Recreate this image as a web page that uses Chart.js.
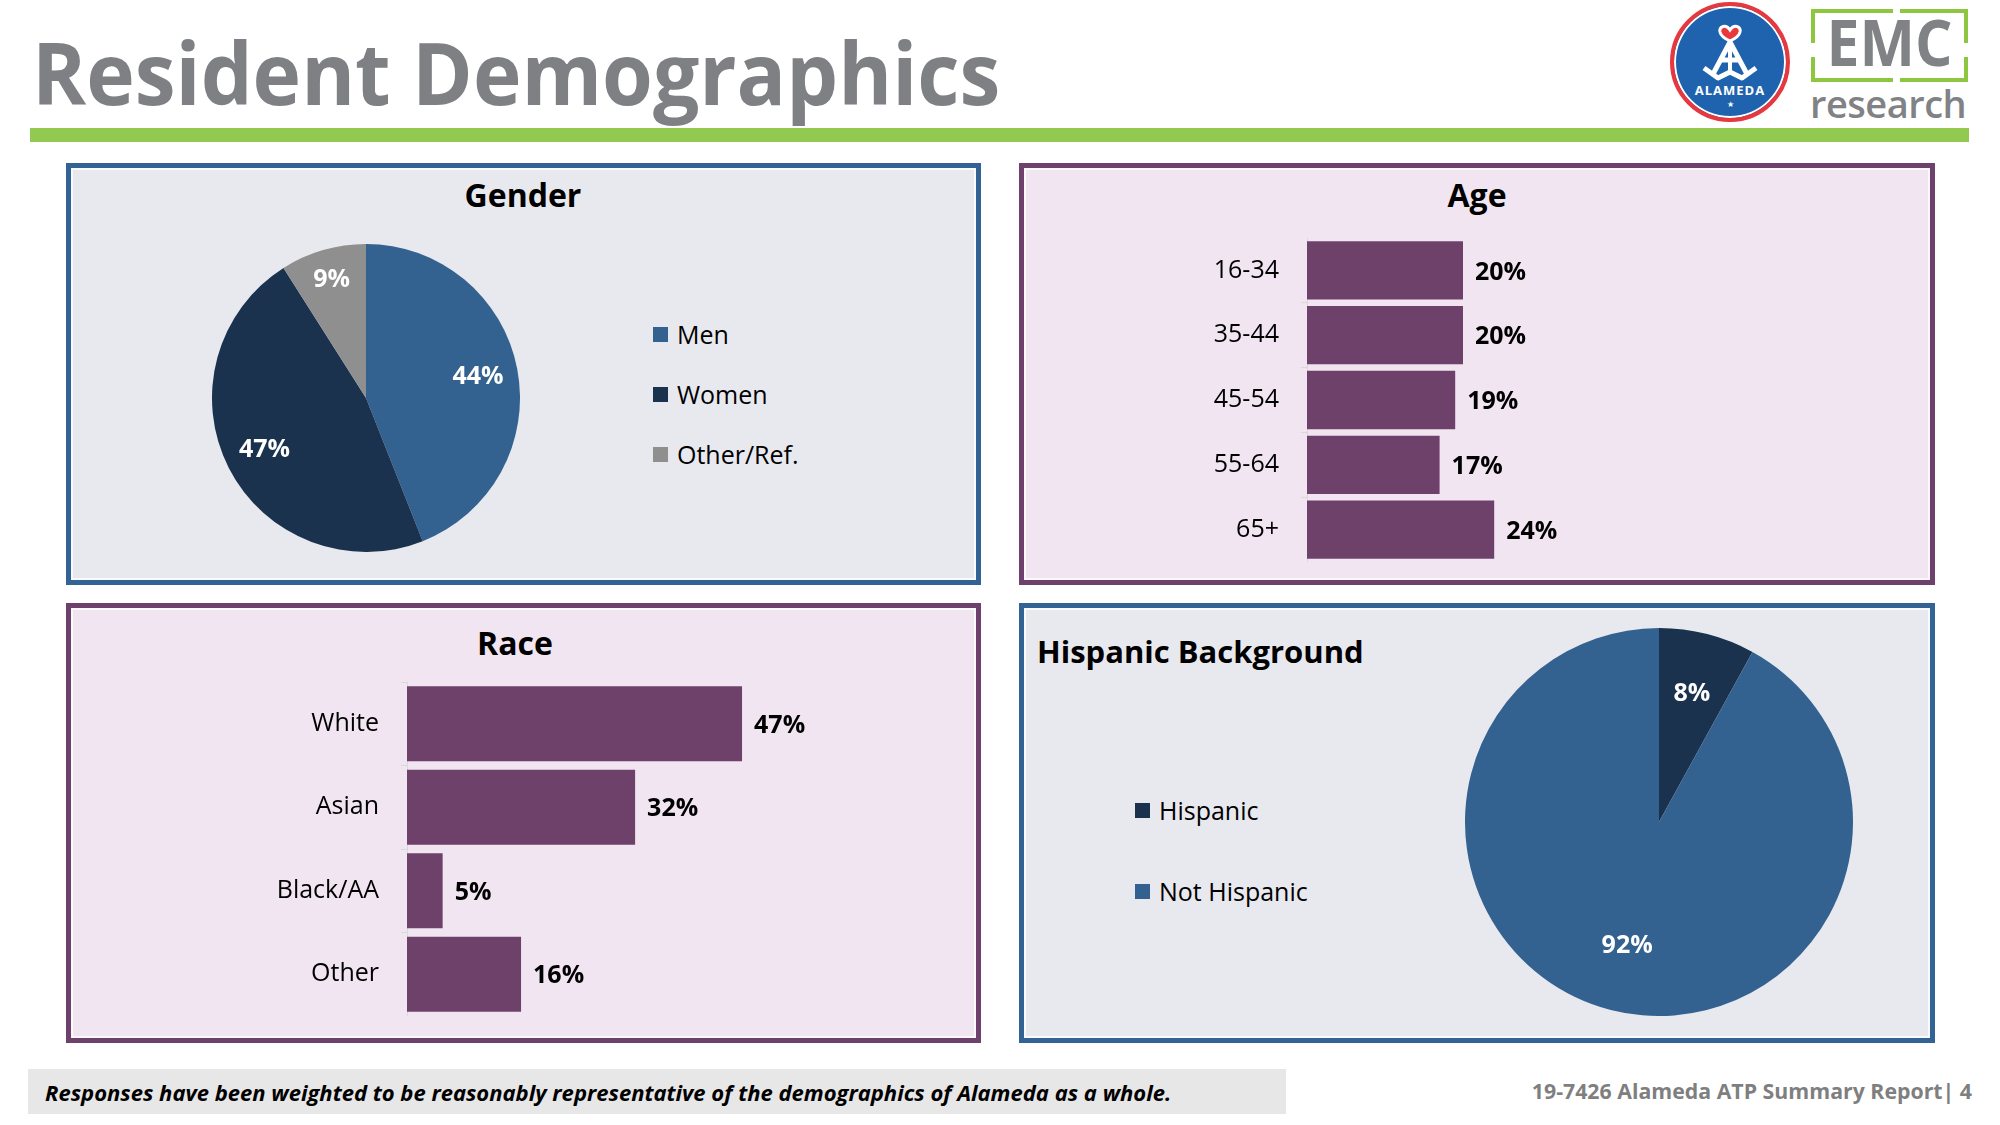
<!DOCTYPE html>
<html>
<head>
<meta charset="utf-8">
<script src="https://cdn.jsdelivr.net/npm/chart.js@4"></script>
<style>
  html, body { margin: 0; padding: 0; }
  body { width: 2000px; height: 1125px; position: relative; background: #fff; font-family: 'Open Sans', sans-serif; overflow: hidden; }
  .abs { position: absolute; }
  .panel { position: absolute; box-sizing: border-box; border: 5px solid; box-shadow: inset 0 0 0 2px rgba(255,255,255,0.75); }
  .blue { border-color: #336294; background: #e8e9ef; }
  .purple { border-color: #6e416c; background: #f2e5f2; }
  .ptitle { position: absolute; font-weight: 700; font-size: 32px; line-height: 32px; color: #000; white-space: nowrap; }
  .legend { position: absolute; font-size: 25px; color: #000; }
  .legend .row { position: absolute; left: 0; display: flex; align-items: center; white-space: nowrap; height: 30px; }
  .legend .sq { width: 15px; height: 15px; margin-right: 9px; }
  .box { position: absolute; }
</style>
</head>
<body>

<!-- header -->
<div class="abs" style="left:32px; top:29px; font-size:86px; line-height:86px; font-weight:700; color:#7f8083; white-space:nowrap; transform:scaleX(0.955); transform-origin:left top;">Resident Demographics</div>
<div class="abs" style="left:30px; top:128px; width:1939px; height:14px; background:#92c950;"></div>

<!-- Alameda logo -->
<div class="abs" style="left:1670px; top:2px; width:112px; height:112px; border-radius:50%; background:#1f63ae; border:4px solid #e8383d; box-shadow: inset 0 0 0 2px #fff;">
  <svg width="112" height="112" viewBox="0 0 112 112" style="position:absolute;left:0;top:0;">
    <path d="M56 24 C52 18 45 20 46 26 C47 31 56 35 56 35 C56 35 65 31 66 26 C67 20 60 18 56 24 Z" fill="#e8383d" stroke="#fff" stroke-width="3"/>
    <path d="M56 36 L38 70 M56 36 L74 70 M46 54 L66 54 M30 62 L44 72 L56 66 L68 72 L82 62" fill="none" stroke="#fff" stroke-width="5" stroke-linejoin="round"/>
    <path d="M56 36 L56 66" stroke="#fff" stroke-width="4"/>
  </svg>
  <div class="abs" style="left:0; top:75px; width:112px; text-align:center; color:#fff; font-weight:700; font-size:13px; letter-spacing:1px;">ALAMEDA</div>
  <div class="abs" style="left:0; top:92px; width:112px; text-align:center; color:#fff; font-size:8px;">&#9733;</div>
</div>

<!-- EMC logo -->
<div class="abs" style="left:1811px; top:9px; width:157px; height:73px; box-sizing:border-box; border:4px solid #8dc63f;"></div>
<div class="abs" style="left:1893px; top:7px; width:7px; height:8px; background:#fff;"></div>
<div class="abs" style="left:1893px; top:76px; width:7px; height:8px; background:#fff;"></div>
<div class="abs" style="left:1809px; top:43px; width:8px; height:14px; background:#fff;"></div>
<div class="abs" style="left:1962px; top:43px; width:8px; height:14px; background:#fff;"></div>
<div class="abs" style="left:1811px; top:10px; width:157px; text-align:center; font-size:64px; line-height:64px; font-weight:700; color:#808285; transform:scaleX(0.92);">EMC</div>
<div class="abs" style="left:1810px; top:84px; font-size:38px; line-height:38px; font-weight:600; color:#808285; letter-spacing:-0.5px;">research</div>

<!-- panels -->
<div class="panel blue" style="left:66px; top:163px; width:915px; height:422px;"></div>
<div class="panel purple" style="left:1019px; top:163px; width:916px; height:422px;"></div>
<div class="panel purple" style="left:66px; top:603px; width:915px; height:440px;"></div>
<div class="panel blue" style="left:1019px; top:603px; width:916px; height:440px;"></div>

<div class="ptitle" style="left:323px; top:179px; width:400px; text-align:center;">Gender</div>
<div class="ptitle" style="left:1277px; top:179px; width:400px; text-align:center;">Age</div>
<div class="ptitle" style="left:315px; top:627px; width:400px; text-align:center;">Race</div>
<div class="ptitle" style="left:1037px; top:635px; font-size:31px;">Hispanic Background</div>

<div class="box" style="left:212px; top:244px; width:308px; height:308px;"><canvas id="gender"></canvas></div>
<div class="box" style="left:1157px; top:238px; width:696px; height:324px;"><canvas id="age"></canvas></div>
<div class="box" style="left:257px; top:682px; width:649px; height:334px;"><canvas id="race"></canvas></div>
<div class="box" style="left:1465px; top:628px; width:388px; height:388px;"><canvas id="hisp"></canvas></div>

<div class="legend" id="genderLegend" style="left:653px; top:0px;"></div>
<div class="legend" id="hispLegend" style="left:1135px; top:0px;"></div>

<!-- footer -->
<div class="abs" style="left:28px; top:1069px; width:1258px; height:45px; background:#e7e7e7;"></div>
<div class="abs" style="left:45px; top:1078px; font-size:22px; line-height:28px; font-weight:700; font-style:italic; color:#000; white-space:nowrap;">Responses have been weighted to be reasonably representative of the demographics of Alameda as a whole.</div>
<div class="abs" style="right:28px; top:1077px; font-size:21.3px; line-height:28px; font-weight:700; color:#7f7f7f; white-space:nowrap;">19-7426 Alameda ATP Summary Report| 4</div>

<script>
// data
const genderLabels = ['Men', 'Women', 'Other/Ref.'];
const genderValues = [44, 47, 9];
const genderColors = ['#336190', '#1b324e', '#8f8f8f'];

const ageLabels = ['16-34', '35-44', '45-54', '55-64', '65+'];
const ageValues = [20, 20, 19, 17, 24];

const raceLabels = ['White', 'Asian', 'Black/AA', 'Other'];
const raceValues = [47, 32, 5, 16];

const hispLabels = ['Hispanic', 'Not Hispanic'];
const hispValues = [8, 92];
const hispColors = ['#1b324e', '#336190'];

const barColor = '#6e416b';

Chart.defaults.font.family = "'Open Sans', sans-serif";
Chart.defaults.color = '#000';

// draws the % labels on slices and at bar ends
const valueLabels = {
    id: 'valueLabels',
    afterDatasetsDraw(chart, args, opts) {
        var ctx = chart.ctx;
        ctx.save();
        ctx.font = 'bold 25px "Open Sans"';
        chart.data.datasets.forEach((ds, i) => {
            var meta = chart.getDatasetMeta(i);
            meta.data.forEach((el, j) => {
                var txt = ds.data[j] + '%';
                if (meta.type == 'pie') {
                    var mid = (el.startAngle + el.endAngle) / 2;
                    var f = opts.radius || 0.7;
                    if (ds.data[j] < 10 && opts.smallRadius) f = opts.smallRadius;
                    var r = el.outerRadius * f;
                    ctx.fillStyle = '#fff';
                    ctx.textAlign = 'center';
                    ctx.textBaseline = 'middle';
                    ctx.fillText(txt, el.x + Math.cos(mid) * r, el.y + Math.sin(mid) * r);
                } else {
                    ctx.fillStyle = '#000';
                    ctx.textAlign = 'left';
                    ctx.textBaseline = 'middle';
                    ctx.fillText(txt, el.x + 12, el.y + 2);
                }
            });
        });
        ctx.restore();
    }
};

function pieChart(id, labels, values, colors, labelRadius, smallRadius) {
    return new Chart(document.getElementById(id), {
        type: 'pie',
        data: {
            labels: labels,
            datasets: [{ data: values, backgroundColor: colors, borderWidth: 0 }]
        },
        options: {
            responsive: true,
            maintainAspectRatio: false,
            animation: false,
            layout: { padding: 0 },
            plugins: {
                legend: { display: false },
                tooltip: { enabled: false },
                valueLabels: { radius: labelRadius, smallRadius: smallRadius }
            }
        },
        plugins: [valueLabels]
    });
}

function barChart(id, labels, values, max) {
    return new Chart(document.getElementById(id), {
        type: 'bar',
        data: {
            labels: labels,
            datasets: [{ data: values, backgroundColor: barColor, borderWidth: 0, barPercentage: 0.9, categoryPercentage: 1 }]
        },
        options: {
            indexAxis: 'y',
            responsive: true,
            maintainAspectRatio: false,
            animation: false,
            layout: { padding: 0 },
            scales: {
                x: { display: false, min: 0, max: max },
                y: {
                    afterFit: (scale) => {
                        scale.width = 150;
                        scale.paddingTop = 0;
                        scale.paddingBottom = 0;
                    },
                    grid: { drawOnChartArea: false, drawTicks: true, tickLength: 6, color: '#d9d9d9', offset: true },
                    border: { color: '#d9d9d9', width: 1 },
                    ticks: { font: { size: 25 }, color: '#000', padding: 22 }
                }
            },
            plugins: {
                legend: { display: false },
                tooltip: { enabled: false }
            }
        },
        plugins: [valueLabels]
    });
}

function htmlLegend(id, labels, colors, rowsY) {
    var box = document.getElementById(id);
    labels.forEach((name, i) => {
        var row = document.createElement('div');
        row.className = 'row';
        row.style.top = (rowsY[i] - 15) + 'px';
        var sq = document.createElement('div');
        sq.className = 'sq';
        sq.style.background = colors[i];
        var t = document.createElement('span');
        t.innerText = name;
        row.append(sq, t);
        box.append(row);
    });
}

pieChart('gender', genderLabels, genderValues, genderColors, 0.74, 0.8);
barChart('age', ageLabels, ageValues, 70);
barChart('race', raceLabels, raceValues, 70);
pieChart('hisp', hispLabels, hispValues, hispColors, 0.66, 0.68);

htmlLegend('genderLegend', genderLabels, genderColors, [334, 394, 454]);
htmlLegend('hispLegend', hispLabels, hispColors, [810, 891]);
</script>
</body>
</html>
